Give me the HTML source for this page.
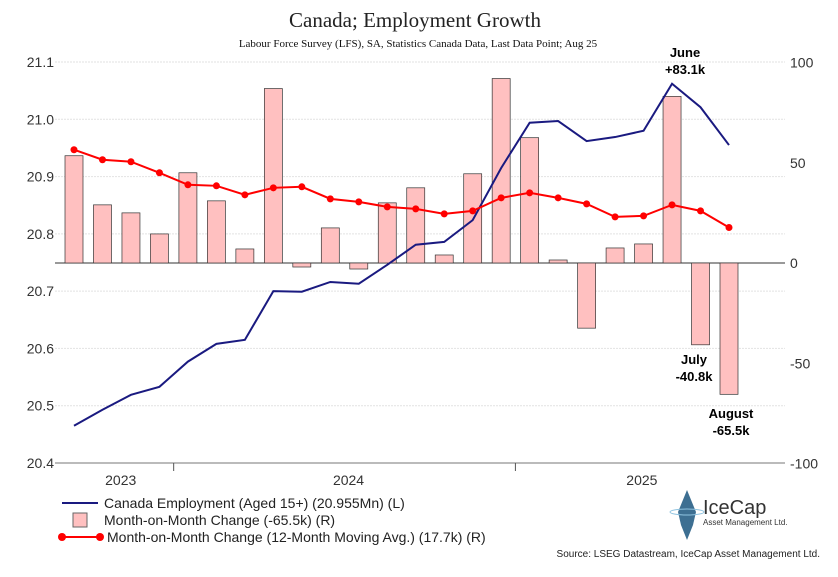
<!DOCTYPE html>
<html><head><meta charset="utf-8"><style>
body{margin:0;background:#fff;}
svg{display:block;font-family:"Liberation Sans",sans-serif;}
</style></head><body>
<svg id="c" width="838" height="577">
<text x="415" y="27" text-anchor="middle" font-family="Liberation Serif" font-size="21" fill="#222">Canada; Employment Growth</text>
<text x="418" y="47" text-anchor="middle" font-family="Liberation Serif" font-size="11" fill="#111">Labour Force Survey (LFS), SA, Statistics Canada Data, Last Data Point; Aug 25</text>
<g id="grid"></g><g id="bars"></g><g id="lines"></g><g id="axes"></g>
<text x="685" y="57" text-anchor="middle" font-weight="bold" font-size="13">June</text>
<text x="685" y="74" text-anchor="middle" font-weight="bold" font-size="13">+83.1k</text>
<text x="694" y="364" text-anchor="middle" font-weight="bold" font-size="13">July</text>
<text x="694" y="381" text-anchor="middle" font-weight="bold" font-size="13">-40.8k</text>
<text x="731" y="418" text-anchor="middle" font-weight="bold" font-size="13">August</text>
<text x="731" y="435" text-anchor="middle" font-weight="bold" font-size="13">-65.5k</text>
<g>
<line x1="62" y1="503" x2="98" y2="503" stroke="#1a1a80" stroke-width="2"/>
<text x="104" y="508" font-size="14" fill="#222">Canada Employment (Aged 15+) (20.955Mn) (L)</text>
<rect x="73" y="513" width="14" height="14" fill="#ffc0c0" stroke="#666" stroke-width="1"/>
<text x="104" y="525" font-size="14" fill="#222">Month-on-Month Change (-65.5k) (R)</text>
<line x1="62" y1="537" x2="100" y2="537" stroke="#f00" stroke-width="2"/>
<circle cx="62" cy="537" r="4" fill="#f00"/><circle cx="100" cy="537" r="4" fill="#f00"/>
<text x="107" y="542" font-size="14" fill="#222">Month-on-Month Change (12-Month Moving Avg.) (17.7k) (R)</text>
</g>
<g>
<path d="M687 490 L696 512 L693 525 L687 540 L681 525 L678 512 Z" fill="#3d6f92"/>
<ellipse cx="687" cy="512" rx="17" ry="3" fill="none" stroke="#8fc3e0" stroke-width="1"/>
<text x="703" y="514" font-size="20" fill="#333">IceCap</text>
<text x="703" y="525" font-size="8" fill="#333">Asset Management Ltd.</text>
</g>
<text x="820" y="557" text-anchor="end" font-size="10" fill="#222">Source: LSEG Datastream, IceCap Asset Management Ltd.</text>
</svg>
<script>
const months=["Sep23","Oct23","Nov23","Dec23","Jan24","Feb24","Mar24","Apr24","May24","Jun24","Jul24","Aug24","Sep24","Oct24","Nov24","Dec24","Jan25","Feb25","Mar25","Apr25","May25","Jun25","Jul25","Aug25"];
const employment=[20.465,20.493,20.519,20.533,20.577,20.608,20.615,20.700,20.699,20.716,20.713,20.746,20.781,20.786,20.824,20.915,20.994,20.997,20.962,20.969,20.980,21.062,21.021,20.955];
const momChange=[53.5,29,25,14.5,45,31,7,87,-2,17.5,-3,30,37.5,4,44.5,92,62.5,1.5,-32.5,7.5,9.5,83.1,-40.8,-65.5];
const movingAvg=[56.5,51.5,50.5,45,39,38.5,34,37.5,38,32,30.5,28,27,24.5,26,32.5,35,32.5,29.5,23,23.5,29,26,17.7];
const leftTicks=[21.1,21.0,20.9,20.8,20.7,20.6,20.5,20.4];
const rightTicks=[100,50,0,-50,-100];
const years=[{label:"2023",i:1.5},{label:"2024",i:9.5},{label:"2025",i:19.8}];
const NS="http://www.w3.org/2000/svg";
const xOf=i=>74+i*(729-74)/23;
const yL=v=>62+(21.1-v)/0.7*401;
const yR=v=>263-v*2.005;
function mk(tag,attrs,parent){const e=document.createElementNS(NS,tag);for(const k in attrs)e.setAttribute(k,attrs[k]);document.getElementById(parent).appendChild(e);return e;}
leftTicks.forEach(t=>{
 const g=mk("line",{x1:55,x2:785,y1:yL(t),y2:yL(t),stroke:t===20.4?"#bbb":"#e2e2e2","stroke-width":t===20.4?2:1,"stroke-dasharray":t===20.4?"none":"2,1"},"grid");
 
 
 const tx=mk("text",{x:54,y:yL(t)+5,"text-anchor":"end","font-size":14,fill:"#333"},"axes");
 tx.textContent=t.toFixed(1);
 
 
});
rightTicks.forEach(t=>{
 const tx=mk("text",{x:790,y:yR(t)+5,"font-size":14,fill:"#333"},"axes");
 tx.textContent=t;
 
 
});
mk("line",{x1:55,x2:785,y1:yR(0),y2:yR(0),stroke:"#333","stroke-width":1},"grid");
[3.5,15.5].forEach(i=>{mk("line",{x1:xOf(i),x2:xOf(i),y1:463,y2:471,stroke:"#555"},"axes");});
years.forEach(y=>{
 const tx=mk("text",{x:xOf(y.i)+4,y:485,"text-anchor":"middle","font-size":14,fill:"#333"},"axes");
 tx.textContent=y.label;
 
 
});
momChange.forEach((v,i)=>{
 const y0=yR(0),y1=yR(v);
 const r=mk("rect",{x:xOf(i)-9,y:Math.min(y0,y1),width:18,height:Math.max(1,Math.abs(y1-y0)),fill:"#ffc0c0",stroke:"#333","stroke-width":0.7},"bars");
 
 
});
const el=mk("polyline",{points:employment.map((v,i)=>xOf(i)+","+yL(v)).join(" "),fill:"none",stroke:"#1a1a80","stroke-width":2},"lines");


const ma=mk("polyline",{points:movingAvg.map((v,i)=>xOf(i)+","+yR(v)).join(" "),fill:"none",stroke:"#f00","stroke-width":2},"lines");


movingAvg.forEach((v,i)=>{
 const c=mk("circle",{cx:xOf(i),cy:yR(v),r:3.5,fill:"#f00"},"lines");
 
 
});
</script>
</body></html>
